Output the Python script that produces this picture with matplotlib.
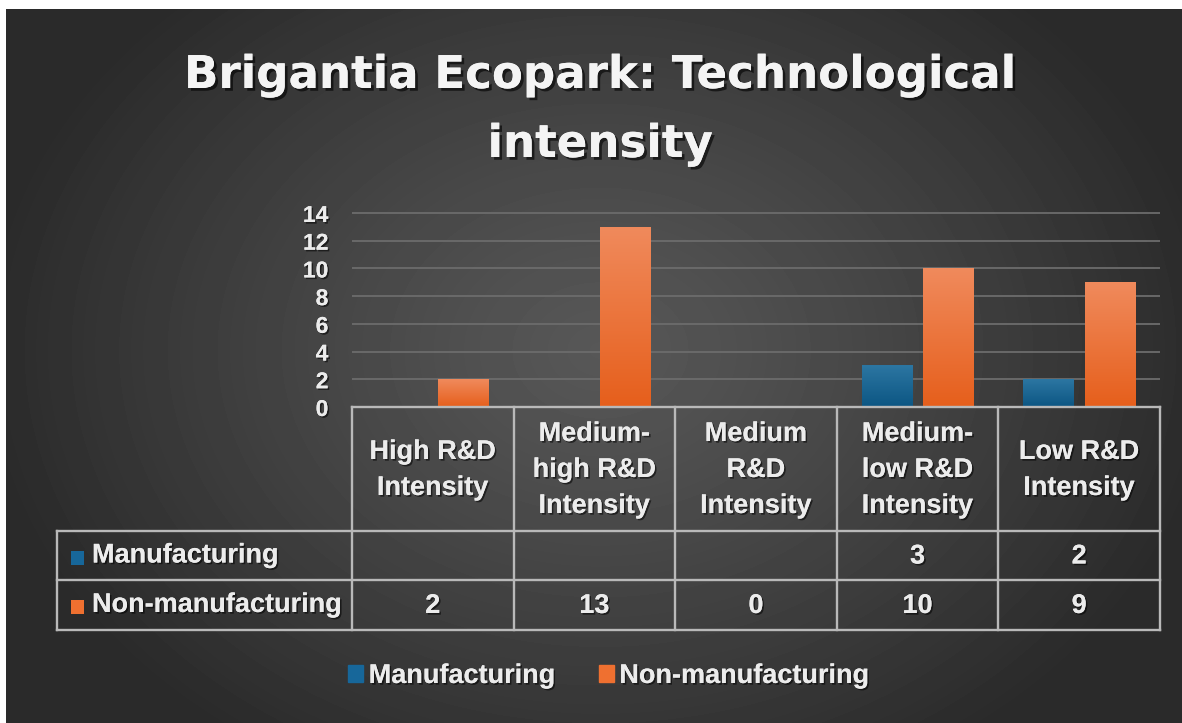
import numpy as np
import matplotlib
matplotlib.use('Agg')
import matplotlib.pyplot as plt
from matplotlib.patches import Rectangle
from matplotlib.colors import LinearSegmentedColormap
import matplotlib.patheffects as pe

plt.rcParams['font.family'] = ['Liberation Sans', 'DejaVu Sans']

# ---------------- data ----------------
title_lines = ["Brigantia Ecopark: Technological", "intensity"]
categories = ["High R&D\nIntensity", "Medium-\nhigh R&D\nIntensity", "Medium\nR&D\nIntensity",
              "Medium-\nlow R&D\nIntensity", "Low R&D\nIntensity"]
series_names = ["Manufacturing", "Non-manufacturing"]
manufacturing = [None, None, None, 3, 2]
non_manufacturing = [2, 13, 0, 10, 9]
y_ticks = [0, 2, 4, 6, 8, 10, 12, 14]

# ---------------- style ----------------
W, H = 1182, 723
TXT = '#ececec'
LINE = '#b9b9b9'
BLUE_TOP, BLUE_BOT = '#2c76a2', '#0c5683'
ORA_TOP, ORA_BOT = '#f08a5c', '#e65f1c'
BLUE, ORANGE = '#17679a', '#ef7030'
shadow = [pe.withSimplePatchShadow(offset=(1.2, -1.2), shadow_rgbFace='black', alpha=0.55), pe.Normal()]

fig = plt.figure(figsize=(W / 100, H / 100), dpi=100)
fig.patch.set_facecolor('white')

# background panel with radial gradient
bg = fig.add_axes([6 / W, 0, (W - 6) / W, (H - 9) / H], zorder=0)
yy, xx = np.mgrid[9:H, 6:W]
r = np.sqrt(((xx - 600) / 620.0) ** 2 + ((yy - 350) / 480.0) ** 2)
val = (87 - 45 * np.clip(r, 0, 1) ** 1.2) / 255.0
bg.imshow(val, cmap='gray', vmin=0, vmax=1, aspect='auto', interpolation='bilinear')
bg.axis('off')

# ---------------- bar axes ----------------
px_per_unit = 194 / 14.0
ax_h = 196
ax = fig.add_axes([352 / W, (H - 407) / H, 808 / W, ax_h / H], zorder=2)
ax.set_facecolor('none')
x = np.arange(len(categories))
bw, off = 0.31, 0.19
m_vals = np.array([np.nan if v is None else v for v in manufacturing], float)
n_vals = np.array(non_manufacturing, float)

bars_m = ax.bar(x - off, np.nan_to_num(m_vals), bw, color=BLUE, zorder=2)
bars_n = ax.bar(x + off, n_vals, bw, color=ORANGE, zorder=2)


def grad_bar(rect, c_top, c_bot):
    h = rect.get_height()
    if not h > 0:
        return
    cmap = LinearSegmentedColormap.from_list('g', [c_bot, c_top])
    x0, y0, w = rect.get_x(), rect.get_y(), rect.get_width()
    im = ax.imshow(np.linspace(0, 1, 100).reshape(-1, 1), cmap=cmap, origin='lower',
                   extent=(x0, x0 + w, y0, y0 + h), aspect='auto', zorder=3)
    im.set_clip_path(rect)


for b in bars_m:
    grad_bar(b, BLUE_TOP, BLUE_BOT)
for b in bars_n:
    grad_bar(b, ORA_TOP, ORA_BOT)

ax.set_xlim(-0.5, len(categories) - 0.5)
ax.set_ylim(0, ax_h / px_per_unit)
ax.set_yticks(y_ticks)
ax.set_xticks([])
ax.yaxis.grid(True, color='#6c6c6c', lw=1.3)
ax.set_axisbelow(True)
for s in ax.spines.values():
    s.set_visible(False)
ax.tick_params(axis='y', length=0, pad=17, labelsize=16.5, labelcolor=TXT)
for t in ax.get_yticklabels():
    t.set_fontweight('bold')
    t.set_path_effects(shadow)

# ---------------- data table (overlay in pixel coords) ----------------
ov = fig.add_axes([0, 0, 1, 1], zorder=3)
ov.set_xlim(0, W)
ov.set_ylim(H, 0)
ov.axis('off')
ov.patch.set_alpha(0)

xe = ax.transData.transform([[i - 0.5, 0] for i in range(len(categories) + 1)])[:, 0]
xc = (xe[:-1] + xe[1:]) / 2
top_y, hdr_y, r1_y, r2_y = 407, 531, 580, 630
left_x = 57

lkw = dict(color=LINE, lw=1.7, solid_capstyle='projecting')
ov.plot([xe[0], xe[-1]], [top_y, top_y], **lkw)
for yv in (hdr_y, r1_y, r2_y):
    ov.plot([left_x, xe[-1]], [yv, yv], **lkw)
for xv in xe:
    ov.plot([xv, xv], [top_y, r2_y], **lkw)
ov.plot([left_x, left_x], [hdr_y, r2_y], **lkw)

fs = 19.5
for cx, lab in zip(xc, categories):
    ov.text(cx, (top_y + hdr_y) / 2 + 1, lab, ha='center', va='center', multialignment='center',
            fontsize=fs, fontweight='bold', color=TXT, linespacing=1.5, path_effects=shadow)

rows = [(manufacturing, BLUE, (hdr_y + r1_y) / 2), (non_manufacturing, ORANGE, (r1_y + r2_y) / 2)]
for (vals, col, yc), name in zip(rows, series_names):
    ov.add_patch(Rectangle((71, yc - 5), 13, 14, color=col, lw=0))
    ov.text(92, yc, name, ha='left', va='center', fontsize=fs, fontweight='bold',
            color=TXT, path_effects=shadow)
    for cx, v in zip(xc, vals):
        if v is None:
            continue
        ov.text(cx, yc + 1, str(v), ha='center', va='center', fontsize=fs, fontweight='bold',
                color=TXT, path_effects=shadow)

# ---------------- legend ----------------
handles = [Rectangle((0, 0), 1, 1, color=BLUE), Rectangle((0, 0), 1, 1, color=ORANGE)]
leg = fig.legend(handles, series_names, loc='center', bbox_to_anchor=(609 / W, 1 - 676 / H),
                 ncol=2, frameon=False, handlelength=0.55, handleheight=0.55, handletextpad=0.2,
                 columnspacing=1.6, prop={'size': fs, 'weight': 'bold'})
for t in leg.get_texts():
    t.set_color(TXT)
    t.set_path_effects(shadow)

# ---------------- title ----------------
for txt, base in zip(title_lines, (88, 157)):
    fig.text(600 / W, 1 - base / H, txt, ha='center', va='baseline', fontsize=32.5,
             fontweight='bold', color='#f4f4f4', family=['DejaVu Sans'],
             path_effects=[pe.withSimplePatchShadow(offset=(2, -2), shadow_rgbFace='black', alpha=0.6),
                           pe.Normal()])

fig.savefig('out.png', dpi=100, facecolor=fig.get_facecolor())
